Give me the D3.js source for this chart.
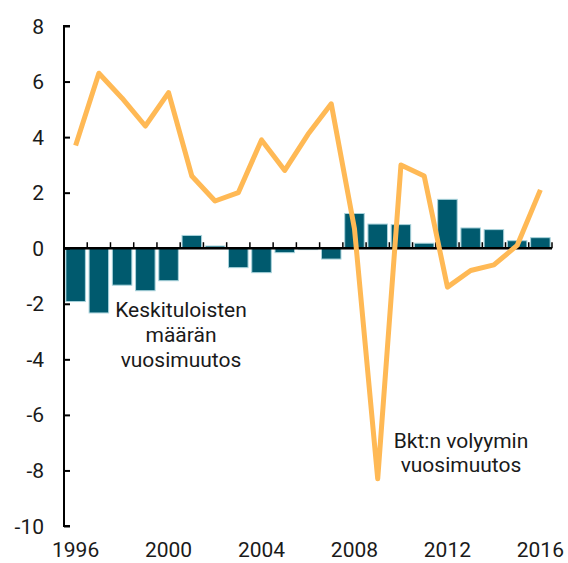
<!DOCTYPE html>
<html>
<head>
<meta charset="utf-8">
<script src="https://cdn.jsdelivr.net/npm/d3@7"></script>
<style>
  body { margin: 0; background: #fff; }
  text { font-family: Roboto, "Liberation Sans", Arial, sans-serif; fill: #1a1a1a; }
</style>
</head>
<body>
<svg id="chart" width="568" height="563"></svg>
<script>
// data
var years = [1996, 1997, 1998, 1999, 2000, 2001, 2002, 2003, 2004, 2005, 2006,
             2007, 2008, 2009, 2010, 2011, 2012, 2013, 2014, 2015, 2016];
var earners = [-1.92, -2.33, -1.33, -1.53, -1.17, 0.46, 0.08, -0.7, -0.88, -0.16, -0.05,
               -0.39, 1.25, 0.87, 0.85, 0.18, 1.76, 0.73, 0.67, 0.27, 0.38];
var gdp = [3.7, 6.3, 5.4, 4.4, 5.6, 2.6, 1.7, 2.0, 3.9, 2.8, 4.1,
           5.2, 0.7, -8.3, 3.0, 2.6, -1.4, -0.8, -0.6, 0.1, 2.1];
var yTicks = [-10, -8, -6, -4, -2, 0, 2, 4, 6, 8];
var xLabels = [1996, 2000, 2004, 2008, 2012, 2016];

var svg = d3.select("#chart");

var x = d3.scaleBand()
    .domain(years)
    .range([64, 552])
    .paddingInner(0.16)
    .paddingOuter(0.08);

var y = d3.scaleLinear()
    .domain([-10, 8])
    .range([526, 26]);

// bars
svg.append("g")
  .selectAll("rect")
  .data(years)
  .enter()
  .append("rect")
    .attr("x", function(d) { return x(d); })
    .attr("width", x.bandwidth())
    .attr("y", function(d, i) { return y(Math.max(0, earners[i])); })
    .attr("height", function(d, i) { return Math.abs(y(earners[i]) - y(0)); })
    .attr("fill", "#005a6e")
    .attr("stroke", "#a9d3dc")
    .attr("stroke-width", 1);

// zero line with small ticks between years
var zero = svg.append("g");
zero.append("line")
    .attr("x1", 64).attr("x2", 552)
    .attr("y1", y(0)).attr("y2", y(0))
    .attr("stroke", "#000").attr("stroke-width", 2.5);
zero.selectAll(".zt")
  .data(d3.range(1, years.length + 1))
  .enter()
  .append("line")
    .attr("class", "zt")
    .attr("x1", function(d) { return 64 + d * (552 - 64) / years.length; })
    .attr("x2", function(d) { return 64 + d * (552 - 64) / years.length; })
    .attr("y1", y(0)).attr("y2", y(0) - 6)
    .attr("stroke", "#000").attr("stroke-width", 1.5);

// y axis
var yAxis = svg.append("g")
    .attr("transform", "translate(64,0)")
    .call(d3.axisRight(y).tickValues(yTicks).tickSize(6).tickFormat(""));
yAxis.select(".domain").attr("stroke-width", 2).attr("d", "M6," + y(-10) + "H0V" + y(8) + "H6");
yAxis.selectAll(".tick line").attr("stroke-width", 2);

svg.append("g")
  .selectAll("text")
  .data(yTicks)
  .enter()
  .append("text")
    .attr("x", 44)
    .attr("y", function(d) { return y(d) + 7.5; })
    .attr("text-anchor", "end")
    .attr("font-size", 21)
    .text(function(d) { return d; });

// x labels
svg.append("g")
  .selectAll("text")
  .data(xLabels)
  .enter()
  .append("text")
    .attr("x", function(d) { return x(d) + x.bandwidth() / 2; })
    .attr("y", 557)
    .attr("text-anchor", "middle")
    .attr("font-size", 21)
    .text(function(d) { return d; });

// gdp line
var line = d3.line()
    .x(function(d, i) { return x(years[i]) + x.bandwidth() / 2; })
    .y(function(d) { return y(d); });
svg.append("path")
    .datum(gdp)
    .attr("d", line)
    .attr("fill", "none")
    .attr("stroke", "#ffb955")
    .attr("stroke-width", 5)
    .attr("stroke-linejoin", "round");

// annotations
function label(lines, cx, y0, dy) {
    var t = svg.append("text")
        .attr("text-anchor", "middle")
        .attr("font-size", 21);
    lines.forEach(function(s, i) {
        t.append("tspan").attr("x", cx).attr("y", y0 + i * dy).text(s);
    });
}
label(["Keskituloisten", "määrän", "vuosimuutos"], 181, 317, 25);
label(["Bkt:n volyymin", "vuosimuutos"], 461, 448, 24);
</script>
</body>
</html>
